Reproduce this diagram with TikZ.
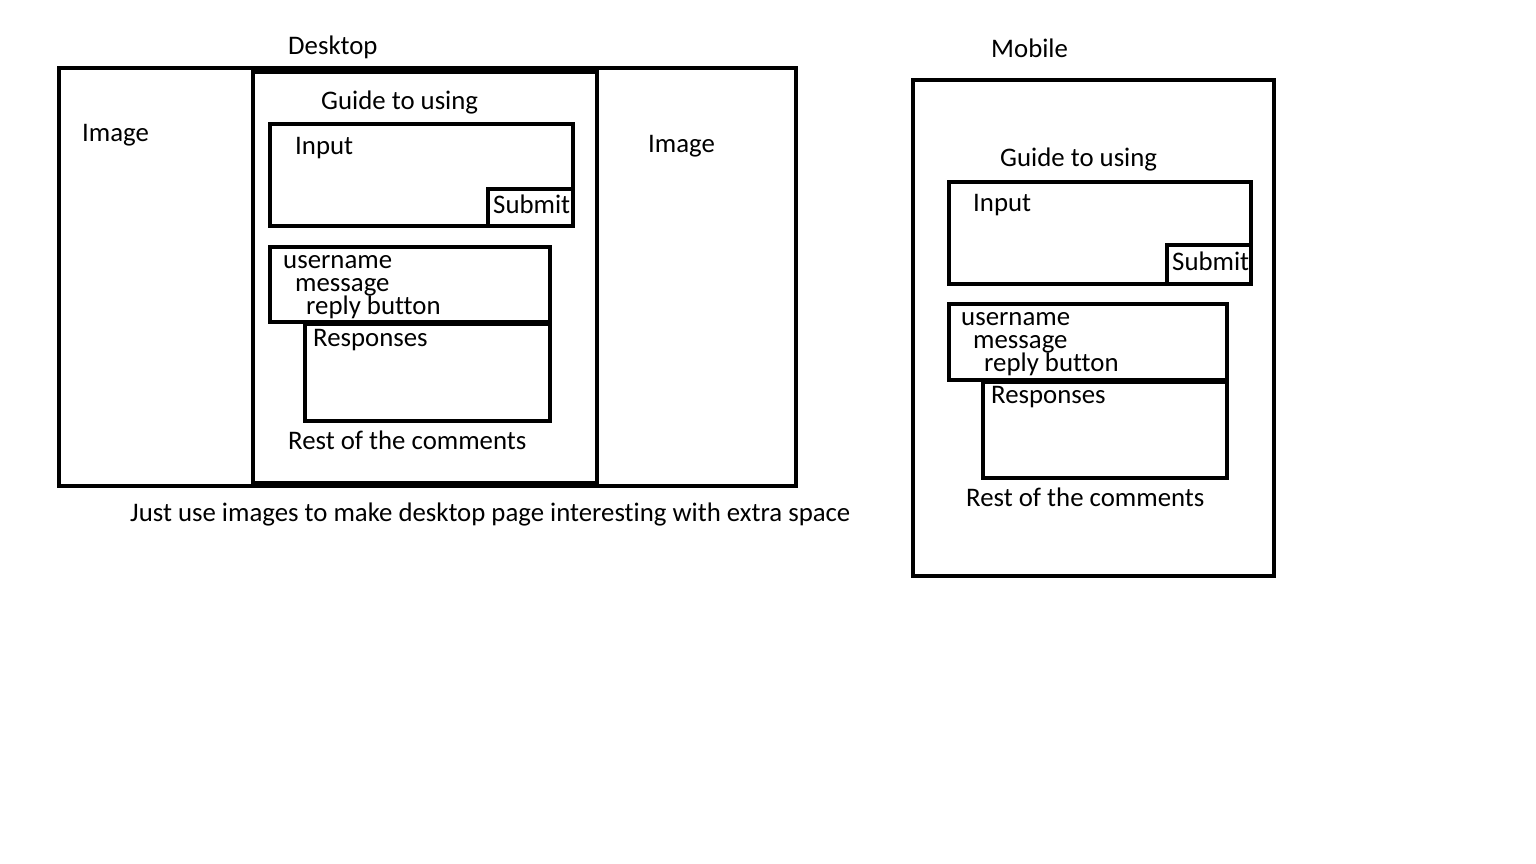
\documentclass[tikz,border=0pt]{standalone}
\usepackage{fontspec}
\setmainfont{Carlito}[Ligatures=NoCommon]
\begin{document}
\begin{tikzpicture}[x=1pt,y=-1pt,
  frame/.style={draw=black,line width=4pt,fill=none},
  lbl/.style={anchor=base west,inner sep=0pt,font=\fontsize{26.8}{30}\selectfont}]
\useasboundingbox[fill=white] (0,0) rectangle (1536,864);

% ---------- Desktop layout ----------
\draw[frame] (59,68) rectangle (796,486);
\draw[frame] (253,72) rectangle (597,483);
\draw[frame] (270,124) rectangle (573,226);
\draw[frame] (488,189) rectangle (573,226);
\draw[frame] (270,247) rectangle (550,322);
\draw[frame] (305,324) rectangle (550,421);

\node[lbl] (dtitle) at (288,55) {Desktop};
\node[lbl] (dimgl) at (82,142) {Image};
\node[lbl] (dimgr) at (648,152) {Image};
\node[lbl] (dguide) at (321,110) {Guide to using};
\node[lbl] (dinput) at (295,154) {Input};
\node[lbl] (dsubmit) at (493,213) {Submit};
\node[lbl] (duser) at (283,268) {username};
\node[lbl] (dmsg) at (295,291) {message};
\node[lbl] (dreply) at (306,314) {reply button};
\node[lbl] (dresp) at (313,346) {Responses};
\node[lbl] (drest) at (288,449) {Rest of the comments};
\node[lbl] (dnote) at (130,521) {Just use images to make desktop page interesting with extra space};

% ---------- Mobile layout ----------
\draw[frame] (913,80) rectangle (1274,576);
\draw[frame] (949,182) rectangle (1251,284);
\draw[frame] (1167,245) rectangle (1251,284);
\draw[frame] (949,304) rectangle (1227,380);
\draw[frame] (983,382) rectangle (1227,478);

\node[lbl] (mtitle) at (991,58) {Mobile};
\node[lbl] (mguide) at (1000,166) {Guide to using};
\node[lbl] (minput) at (973,211) {Input};
\node[lbl] (msubmit) at (1172,270) {Submit};
\node[lbl] (muser) at (961,325) {username};
\node[lbl] (mmsg) at (973,348) {message};
\node[lbl] (mreply) at (984,371) {reply button};
\node[lbl] (mresp) at (991,403) {Responses};
\node[lbl] (mrest) at (966,506) {Rest of the comments};
\end{tikzpicture}
\end{document}
